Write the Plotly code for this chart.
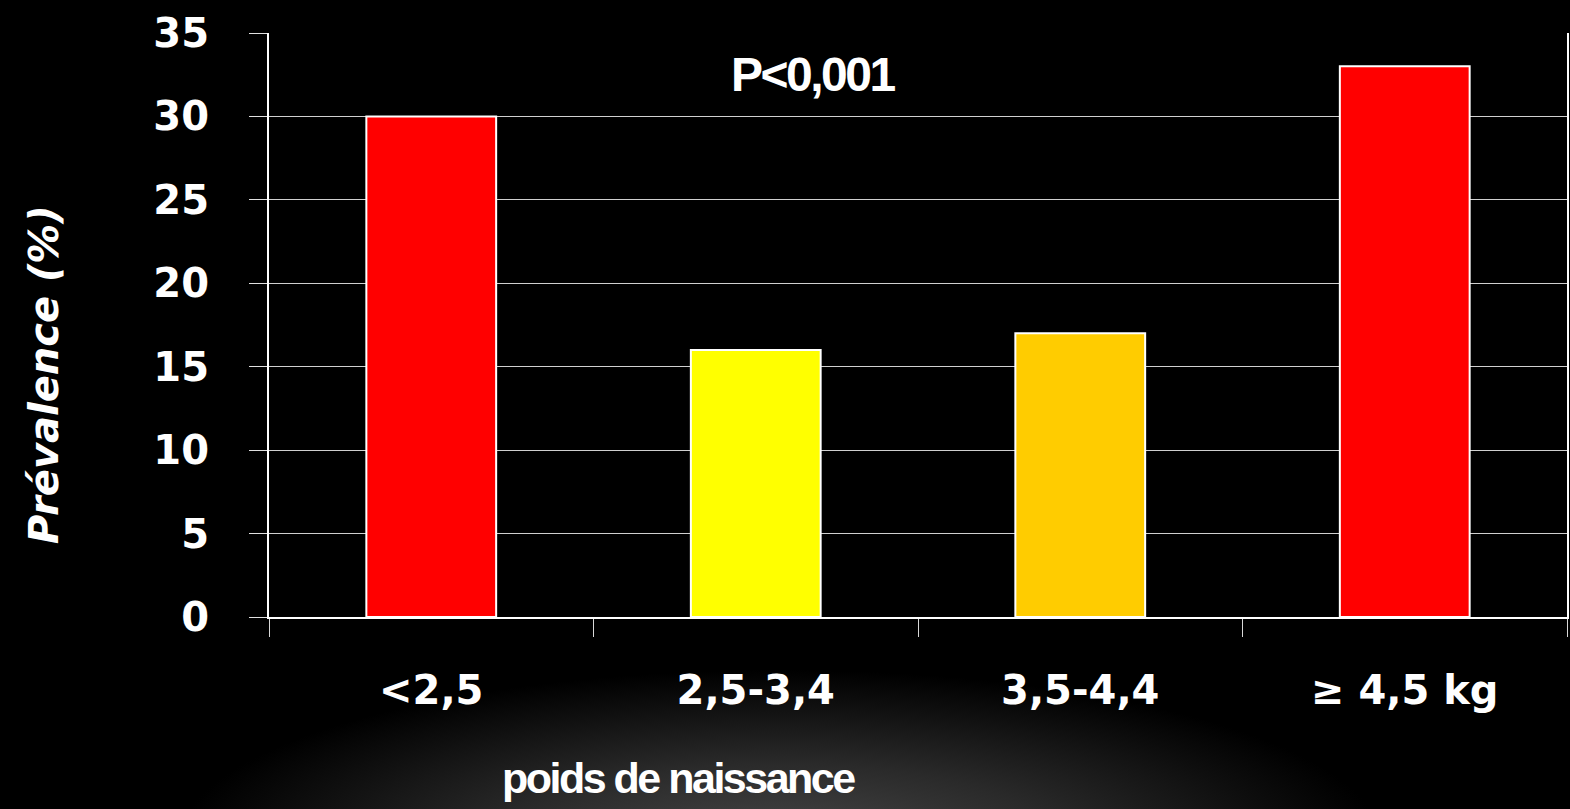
"""Prevalence by birth weight - bar chart on a dark slide background."""
import base64

import plotly.graph_objects as go

CATEGORIES = ["<2,5", "2,5-3,4", "3,5-4,4", "\u2265 4,5 kg"]
PREVALENCE = [30, 16, 17, 33]
BAR_COLORS = ["#ff0000", "#ffff00", "#ffcc00", "#ff0000"]
Y_TICKS = [0, 5, 10, 15, 20, 25, 30, 35]

W, H = 1570, 809
L, R, T, B = 269, 3, 33, 192
PW, PH = W - L - R, H - T - B

LABEL_FONT = "DejaVu Sans, Comic Sans MS, sans-serif"
NARROW_FONT = "Arial Narrow, Liberation Sans, Arial, sans-serif"

# soft grey glow at the bottom of the slide
glow_svg = f"""<svg xmlns="http://www.w3.org/2000/svg" width="{W}" height="{H}" viewBox="0 0 {W} {H}">
<defs><radialGradient id="g" cx="0" cy="0" r="1" gradientUnits="userSpaceOnUse"
gradientTransform="translate(780,840) scale(600,170)">
<stop offset="0" stop-color="#464646"/><stop offset="0.45" stop-color="#2a2a2a"/>
<stop offset="0.8" stop-color="#0f0f0f"/><stop offset="1" stop-color="#000000"/>
</radialGradient></defs>
<rect width="{W}" height="{H}" fill="#000000"/>
<rect width="{W}" height="{H}" fill="url(#g)"/>
</svg>"""
glow_uri = "data:image/svg+xml;base64," + base64.b64encode(glow_svg.encode()).decode()


def px_to_paper(x, y):
    """Figure pixel position -> paper coordinates of the plot area."""
    return (x - L) / PW, (H - B - y) / PH


fig = go.Figure(
    go.Bar(
        x=CATEGORIES,
        y=PREVALENCE,
        marker=dict(color=BAR_COLORS, line=dict(color="#ffffff", width=2)),
        width=0.4,
        hoverinfo="skip",
    )
)

p_x, p_y = px_to_paper(813, 74)
n_x, n_y = px_to_paper(678, 778)
t_x, t_y = px_to_paper(44, 375)

fig.update_layout(
    width=W,
    height=H,
    margin=dict(l=L, r=R, t=T, b=B, autoexpand=False),
    paper_bgcolor="#000000",
    plot_bgcolor="#000000",
    showlegend=False,
    images=[
        dict(
            source=glow_uri,
            xref="paper", yref="paper",
            x=-L / PW, y=1 + T / PH,
            sizex=W / PW, sizey=H / PH,
            sizing="stretch", xanchor="left", yanchor="top",
            layer="below",
        )
    ],
    xaxis=dict(
        type="category",
        tickson="boundaries",
        ticks="outside",
        ticklen=18,
        tickwidth=1,
        tickcolor="#d8d8d8",
        showline=True,
        linecolor="#ffffff",
        linewidth=2,
        showgrid=False,
        tickfont=dict(family=LABEL_FONT, size=40, color="#ffffff", weight="bold"),
        ticklabelstandoff=37,
    ),
    yaxis=dict(
        range=[0, 35],
        tickvals=Y_TICKS,
        ticks="outside",
        ticklen=18,
        tickwidth=1,
        tickcolor="#e0e0e0",
        showline=True,
        linecolor="#ffffff",
        linewidth=2,
        mirror=True,
        showgrid=True,
        gridcolor="#d0d0d0",
        gridwidth=1,
        zeroline=False,
        tickfont=dict(family=LABEL_FONT, size=40, color="#ffffff", weight="bold"),
        ticklabelstandoff=32,
    ),
    annotations=[
        dict(
            text='<span style="letter-spacing:-2.5px">P&lt;0,001</span>',
            xref="paper", yref="paper",
            x=p_x, y=p_y, xanchor="center", yanchor="middle",
            showarrow=False,
            font=dict(family=NARROW_FONT, size=48, color="#ffffff", weight="bold"),
        ),
        dict(
            text='<span style="letter-spacing:-2.5px">poids de naissance</span>',
            xref="paper", yref="paper",
            x=n_x, y=n_y, xanchor="center", yanchor="middle",
            showarrow=False,
            font=dict(family=NARROW_FONT, size=43, color="#ffffff", weight="bold"),
        ),
        dict(
            text="Prévalence (%)",
            xref="paper", yref="paper",
            x=t_x, y=t_y, xanchor="center", yanchor="middle",
            textangle=-90,
            showarrow=False,
            font=dict(family=LABEL_FONT, size=40, color="#ffffff",
                      weight="bold", style="italic"),
        ),
    ],
)

fig.write_html(
    "out.html",
    config={"displayModeBar": False},
    post_script="document.body.style.margin='0';document.body.style.background='#000';",
)
